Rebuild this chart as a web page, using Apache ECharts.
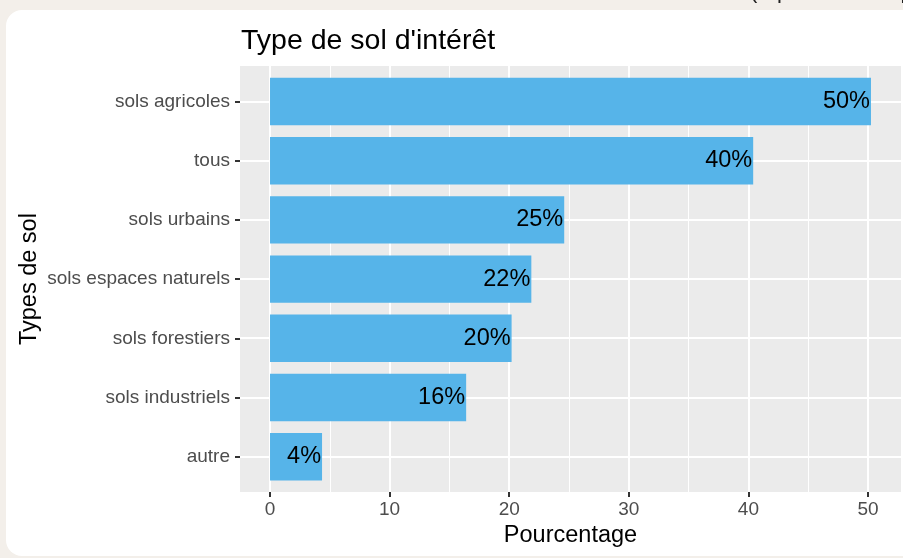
<!DOCTYPE html>
<html>
<head>
<meta charset="utf-8">
<script src="https://cdn.jsdelivr.net/npm/echarts@6/dist/echarts.min.js"></script>
<style>
html, body { margin: 0; padding: 0; background: #f3efea; }
#chart { width: 903px; height: 558px; }
</style>
</head>
<body>
<div id="chart"></div>
<script>
// data
var categories = ['sols agricoles', 'tous', 'sols urbains', 'sols espaces naturels', 'sols forestiers', 'sols industriels', 'autre'];
var values = [50.25, 40.4, 24.6, 21.85, 20.2, 16.4, 4.35];
var xTicks = [0, 10, 20, 30, 40, 50];
var xMinor = [5, 15, 25, 35, 45];
var yLines = [0.6, 1.6, 2.6, 3.6, 4.6, 5.6, 6.6];

var font = '"Liberation Sans", Arial, Helvetica, sans-serif';
var xMin = -2.51, xMax = 52.76;

var chart = echarts.init(document.getElementById('chart'));
var option = {
    backgroundColor: '#f3efea',
    animation: false,
    textStyle: { fontFamily: font },
    title: {
        text: "Type de sol d'intérêt",
        left: 236,
        top: 22,
        textStyle: { fontSize: 28.5, fontWeight: 'normal', color: '#000', fontFamily: font }
    },
    graphic: [
        { type: 'rect', z: -10, shape: { x: 6, y: 10, width: 930, height: 546, r: 16 }, style: { fill: '#fff' } },
        { type: 'text', x: 750, y: -19, style: { text: '(réponses multiples possibles)', font: '22px ' + font, fill: '#222' } }
    ],
    grid: [
        { left: 240, right: 2, top: 66, bottom: 66, show: true, backgroundColor: '#ebebeb', borderWidth: 0 },
        { left: 240, right: 2, top: 71.9, height: 414.4, show: false }
    ],
    xAxis: [
        {
            gridIndex: 0, type: 'value', min: xMin, max: xMax, position: 'bottom',
            axisLine: { show: false, onZero: false },
            axisTick: { show: true, length: 5, customValues: xTicks, lineStyle: { color: '#333', width: 2 } },
            axisLabel: { customValues: xTicks, color: '#4d4d4d', fontSize: 19, margin: 8, fontFamily: font },
            splitLine: { show: true, lineStyle: { color: '#fff', width: 2 } },
            name: 'Pourcentage', nameLocation: 'middle', nameGap: 32,
            nameTextStyle: { fontSize: 23.5, color: '#000', fontFamily: font }
        },
        {
            gridIndex: 0, type: 'value', min: xMin, max: xMax, position: 'bottom',
            axisLine: { show: false, onZero: false },
            axisTick: { show: false, customValues: xMinor },
            axisLabel: { show: false, customValues: xMinor },
            splitLine: { show: true, lineStyle: { color: '#fff', width: 1 } }
        },
        { gridIndex: 1, type: 'value', min: xMin, max: xMax, show: false, axisLine: { onZero: false } }
    ],
    yAxis: [
        {
            gridIndex: 0, type: 'value', min: 0, max: 7.2,
            axisLine: { show: false, onZero: false },
            axisTick: { show: false, customValues: yLines },
            axisLabel: { show: false, customValues: yLines },
            splitLine: { show: true, lineStyle: { color: '#fff', width: 2 } }
        },
        {
            gridIndex: 1, type: 'category', data: categories, inverse: true, position: 'left',
            axisLine: { show: false, onZero: false },
            axisTick: { show: true, length: 5, alignWithLabel: true, lineStyle: { color: '#333', width: 2 } },
            axisLabel: { color: '#4d4d4d', fontSize: 19, margin: 10, fontFamily: font },
            splitLine: { show: false },
            name: 'Types de sol', nameLocation: 'middle', nameGap: 198, nameRotate: 90,
            nameMoveOverlap: false,
            nameTextStyle: { fontSize: 23.5, color: '#000', fontFamily: font }
        }
    ],
    series: [
        {
            type: 'bar',
            xAxisIndex: 2,
            yAxisIndex: 1,
            data: values,
            barWidth: '80%',
            itemStyle: { color: '#56b4e9' },
            label: {
                show: true,
                position: 'insideRight',
                distance: 1,
                color: '#000',
                fontSize: 23.5,
                fontFamily: font,
                formatter: function (p) { return Math.round(p.value) + '%'; }
            }
        }
    ]
};
chart.setOption(option);
</script>
</body>
</html>
